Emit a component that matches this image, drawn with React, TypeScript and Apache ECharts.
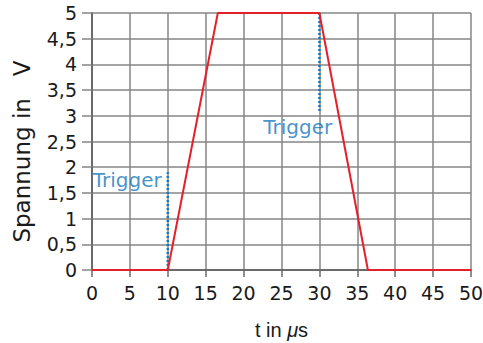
import React, { useEffect, useRef } from "react";
import * as echarts from "echarts";

const tValues = [0, 10, 16.6, 30, 36.4, 50];
const voltage = [0, 0, 5, 5, 0, 0];
const trigger1 = [[10, 0], [10, 1.9]];
const trigger2 = [[30, 5], [30, 3.1]];
const triggerLabels = [[0.1, 1.75], [22.6, 2.78]];
const xTicks = [0, 5, 10, 15, 20, 25, 30, 35, 40, 45, 50];
const yTicks = [0, 0.5, 1, 1.5, 2, 2.5, 3, 3.5, 4, 4.5, 5];

const FONT = "DejaVu Sans";
const NAMEFONT = "Liberation Sans";
const RED = "#e5202a";
const BLUE = "#1577bd";
const GRID = "#868686";
const AXIS = "#6a6a6a";
const TEXT = "#1a1a1a";

export default function App() {
  const ref = useRef<HTMLDivElement>(null);
  useEffect(() => {
    document.body.style.margin = "0";
    const chart = echarts.init(ref.current!, null, { renderer: "svg" });
    chart.setOption({
      animation: false,
      textStyle: { fontFamily: FONT },
      grid: { left: 92, right: 12, top: 13, bottom: 73, containLabel: false, outerBoundsMode: "none" },
      xAxis: {
        type: "value",
        min: xTicks[0],
        max: xTicks[xTicks.length - 1],
        interval: 5,
        name: "{n|t in }{i|μ}{n|s}",
        nameLocation: "middle",
        nameGap: 50,
        nameTextStyle: {
          rich: {
            n: { fontSize: 20, color: TEXT, fontFamily: NAMEFONT },
            i: { fontSize: 20, color: TEXT, fontFamily: NAMEFONT, fontStyle: "italic" },
          },
        },
        axisLine: { show: true, lineStyle: { color: AXIS, width: 2 } },
        axisTick: { show: true, length: 7, lineStyle: { color: AXIS, width: 1.5 } },
        axisLabel: { fontSize: 19, color: TEXT, margin: 13, fontFamily: FONT },
        splitLine: { show: true, lineStyle: { color: GRID, width: 1.5 } },
      },
      yAxis: {
        type: "value",
        min: yTicks[0],
        max: yTicks[yTicks.length - 1],
        interval: 0.5,
        name: "Spannung in   V",
        nameLocation: "middle",
        nameGap: 59,
        nameTextStyle: { fontSize: 23, color: TEXT, fontFamily: FONT, padding: [0, 20, 0, 0] },
        axisLine: { show: true, lineStyle: { color: AXIS, width: 2 } },
        axisTick: { show: true, length: 10, lineStyle: { color: GRID, width: 1.5 } },
        axisLabel: {
          fontSize: 19,
          color: TEXT,
          margin: 15,
          fontFamily: FONT,
          formatter: (v: number) => String(v).replace(".", ","),
        },
        splitLine: { show: true, lineStyle: { color: GRID, width: 1.5 } },
      },
      series: [
        {
          type: "line",
          data: trigger1,
          symbol: "none",
          lineStyle: { color: BLUE, width: 2.5, type: [2, 2] },
          z: 3,
        },
        {
          type: "line",
          data: trigger2,
          symbol: "none",
          lineStyle: { color: BLUE, width: 2.5, type: [2, 2] },
          z: 3,
        },
        {
          type: "line",
          data: tValues.map((t, i) => [t, voltage[i]]),
          symbol: "none",
          lineStyle: { color: RED, width: 2 },
          z: 4,
        },
        {
          type: "scatter",
          data: triggerLabels,
          symbolSize: 0,
          label: {
            show: true,
            position: "right",
            distance: 0,
            formatter: "Trigger",
            color: BLUE,
            fontSize: 20,
            fontFamily: FONT,
          },
          z: 5,
        },
      ],
    });
    return () => chart.dispose();
  }, []);
  return <div ref={ref} style={{ width: 483, height: 343 }} />;
}
